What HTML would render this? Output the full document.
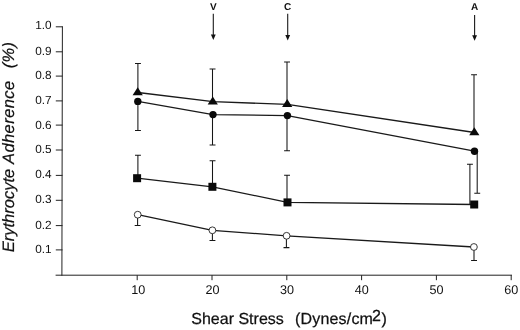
<!DOCTYPE html>
<html><head><meta charset="utf-8"><title>chart</title>
<style>
html,body{margin:0;padding:0;background:#fff;}
body{width:520px;height:330px;overflow:hidden;}
svg{display:block;will-change:transform;filter:grayscale(1);}
text{font-family:"Liberation Sans",sans-serif;fill:#111;text-rendering:geometricPrecision;}
</style></head><body>
<svg width="520" height="330" viewBox="0 0 520 330">
<rect width="520" height="330" fill="#fff"/>
<g stroke="#222" stroke-width="1" fill="none">
<line x1="62.4" y1="26.3" x2="61.9" y2="275.7"/>
<line x1="55.6" y1="275.2" x2="512" y2="275.2"/>
<line x1="55.8" y1="249.9" x2="62.5" y2="249.9"/>
<line x1="55.8" y1="225.6" x2="62.5" y2="225.6"/>
<line x1="55.8" y1="200.3" x2="62.5" y2="200.3"/>
<line x1="55.8" y1="175.4" x2="62.5" y2="175.4"/>
<line x1="55.8" y1="150.0" x2="62.5" y2="150.0"/>
<line x1="55.8" y1="125.1" x2="62.5" y2="125.1"/>
<line x1="55.8" y1="100.9" x2="62.5" y2="100.9"/>
<line x1="55.8" y1="76.1" x2="62.5" y2="76.1"/>
<line x1="55.8" y1="51.8" x2="62.5" y2="51.8"/>
<line x1="55.8" y1="26.8" x2="62.5" y2="26.8"/>
<line x1="137.2" y1="275.2" x2="137.2" y2="280.2"/>
<line x1="212.0" y1="275.2" x2="212.0" y2="280.2"/>
<line x1="286.8" y1="275.2" x2="286.8" y2="280.2"/>
<line x1="361.6" y1="275.2" x2="361.6" y2="280.2"/>
<line x1="436.4" y1="275.2" x2="436.4" y2="280.2"/>
<line x1="511.2" y1="275.2" x2="511.2" y2="280.2"/>
</g>
<g font-size="11.8" text-anchor="end">
<text x="51.6" y="253.3">0.1</text>
<text x="51.6" y="228.7">0.2</text>
<text x="51.6" y="203.4">0.3</text>
<text x="51.6" y="178.4">0.4</text>
<text x="51.6" y="153.1">0.5</text>
<text x="51.6" y="128.6">0.6</text>
<text x="51.6" y="104.0">0.7</text>
<text x="51.6" y="79.2">0.8</text>
<text x="51.6" y="54.9">0.9</text>
<text x="51.6" y="29.4">1.0</text>
</g>
<g font-size="12.6" text-anchor="middle">
<text x="138.2" y="294.1">10</text>
<text x="212.6" y="294.1">20</text>
<text x="287.0" y="294.1">30</text>
<text x="361.8" y="294.1">40</text>
<text x="436.4" y="294.1">50</text>
<text x="511.2" y="294.1">60</text>
</g>
<g font-size="16" stroke="#111" stroke-width="0.25">
<text x="191.3" y="323.7">Shear Stress</text>
<text x="295" y="323.7" letter-spacing="0.18">(Dynes/cm</text>
<text x="372" y="320.7">2</text>
<text x="381.5" y="323.7">)</text>
</g>
<g font-size="16.5" font-style="italic" stroke="#111" stroke-width="0.2">
<text transform="translate(13.8,252.3) rotate(-90)">Erythrocyte</text>
<text transform="translate(13.8,164) rotate(-90)" letter-spacing="0.42">Adherence</text>
<text transform="translate(13.8,68.2) rotate(-90)" letter-spacing="0.3">(%)</text>
</g>
<text x="213.3" y="9.55" font-size="10" font-weight="bold" text-anchor="middle">V</text>
<line x1="213.3" y1="13.8" x2="213.3" y2="36.0" stroke="#1a1a1a" stroke-width="1.1"/>
<path d="M210.9 34.5 L215.7 34.5 L213.3 40.0 Z" fill="#111"/>
<text x="287.7" y="9.55" font-size="10" font-weight="bold" text-anchor="middle">C</text>
<line x1="287.7" y1="13.8" x2="287.7" y2="36.4" stroke="#1a1a1a" stroke-width="1.1"/>
<path d="M285.3 34.9 L290.1 34.9 L287.7 40.4 Z" fill="#111"/>
<text x="474.6" y="10.1" font-size="10" font-weight="bold" text-anchor="middle">A</text>
<line x1="474.6" y1="14.9" x2="474.6" y2="36.8" stroke="#1a1a1a" stroke-width="1.1"/>
<path d="M472.2 35.3 L477.0 35.3 L474.6 40.8 Z" fill="#111"/>
<g stroke="#161616" stroke-width="1.05" fill="none">
<path d="M137.9 92.5 L137.9 63.5 M135.0 63.5 L140.9 63.5"/>
<path d="M212.5 101.7 L212.5 69.0 M209.6 69.0 L215.5 69.0"/>
<path d="M287.0 104.4 L287.0 61.9 M284.1 61.9 L290.0 61.9"/>
<path d="M474.0 132.5 L474.0 74.7 M471.1 74.7 L477.0 74.7"/>
<path d="M137.9 101.4 L137.9 130.5 M135.0 130.5 L140.9 130.5"/>
<path d="M212.5 114.6 L212.5 145.0 M209.6 145.0 L215.5 145.0"/>
<path d="M287.0 115.6 L287.0 150.8 M284.1 150.8 L290.0 150.8"/>
<path d="M477.2 151.2 L477.2 193.2 M474.3 193.2 L480.2 193.2"/>
<path d="M137.9 178.2 L137.9 155.3 M135.0 155.3 L140.9 155.3"/>
<path d="M212.5 186.8 L212.5 160.8 M209.6 160.8 L215.5 160.8"/>
<path d="M287.0 202.4 L287.0 175.2 M284.1 175.2 L290.0 175.2"/>
<path d="M469.9 204.5 L469.9 164.3 M467.0 164.3 L472.9 164.3"/>
<path d="M137.6 214.7 L137.6 225.5 M134.7 225.5 L140.6 225.5"/>
<path d="M212.4 230.3 L212.4 240.4 M209.5 240.4 L215.4 240.4"/>
<path d="M286.4 235.8 L286.4 247.6 M283.5 247.6 L289.4 247.6"/>
<path d="M474.0 247.0 L474.0 260.5 M471.1 260.5 L477.0 260.5"/>
</g>
<g stroke="#1a1a1a" stroke-width="1.3" fill="none" stroke-linejoin="round">
<polyline points="137.9,92.5 213.0,101.7 287.4,104.4 474.5,132.5"/>
<polyline points="137.8,101.4 213.0,114.6 287.4,115.6 474.5,151.2"/>
<polyline points="137.1,178.2 212.4,186.8 287.5,202.4 474.2,204.5"/>
<polyline points="137.7,214.7 212.4,230.3 286.6,235.8 473.9,247.0"/>
</g>
<g fill="#0a0a0a" stroke="none">
<path d="M137.7 87.2 L142.8 95.2 L132.6 95.2 Z"/>
<path d="M212.8 96.4 L217.9 104.4 L207.7 104.4 Z"/>
<path d="M287.2 99.1 L292.3 107.1 L282.1 107.1 Z"/>
<path d="M474.3 127.2 L479.4 135.2 L469.2 135.2 Z"/>
<circle cx="137.8" cy="101.4" r="3.7"/>
<circle cx="213.0" cy="114.6" r="3.7"/>
<circle cx="287.4" cy="115.6" r="3.7"/>
<circle cx="474.5" cy="151.2" r="3.7"/>
<rect x="133.1" y="174.2" width="8" height="8"/>
<rect x="208.4" y="182.8" width="8" height="8"/>
<rect x="283.5" y="198.4" width="8" height="8"/>
<rect x="470.2" y="200.5" width="8" height="8"/>
</g>
<g fill="#fff" stroke="#222" stroke-width="0.9">
<circle cx="137.7" cy="214.7" r="3.4"/>
<circle cx="212.4" cy="230.3" r="3.4"/>
<circle cx="286.6" cy="235.8" r="3.4"/>
<circle cx="473.9" cy="247.0" r="3.4"/>
</g>
</svg>
</body></html>
